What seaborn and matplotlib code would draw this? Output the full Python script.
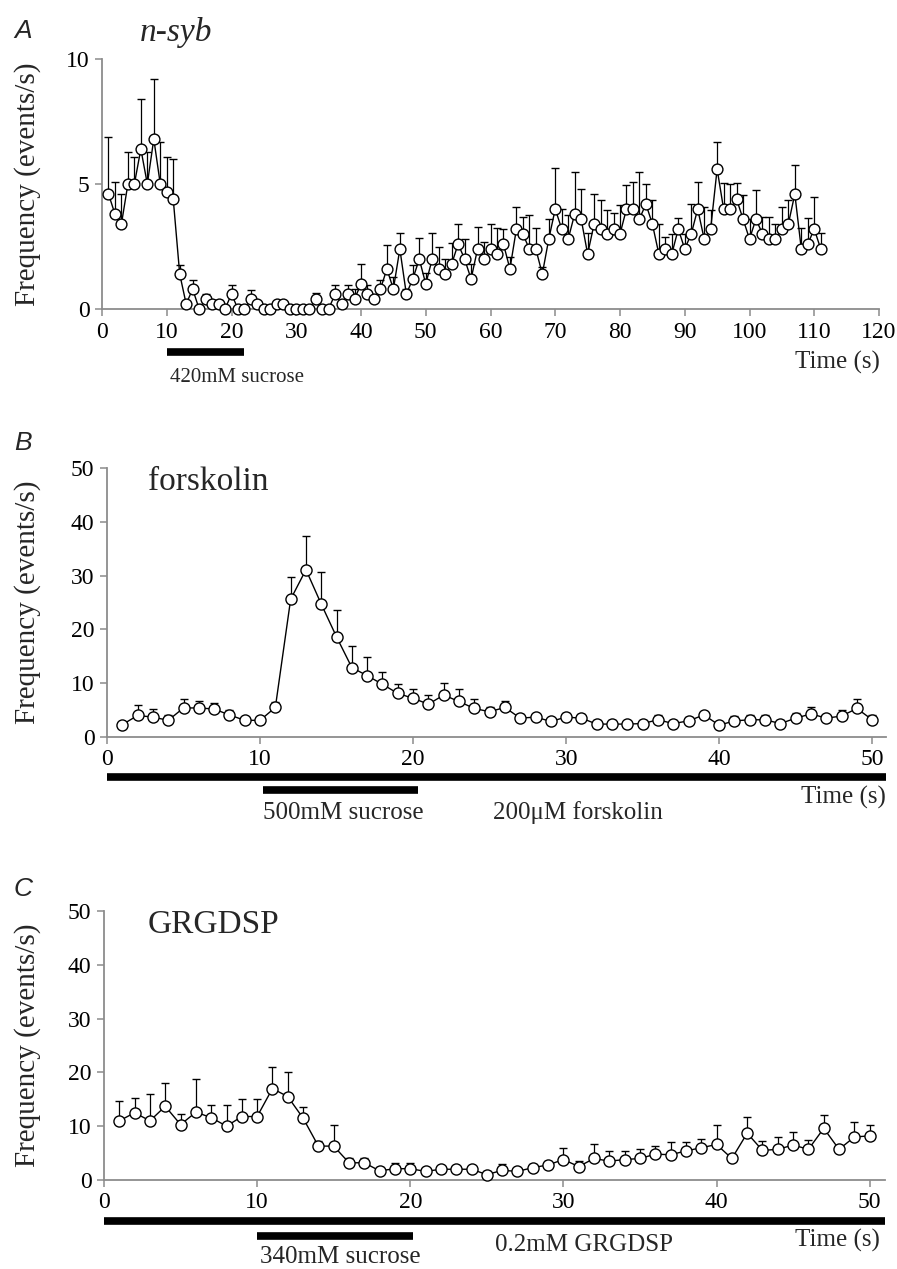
import numpy as np
import pandas as pd
import matplotlib
matplotlib.use("Agg")
import matplotlib.pyplot as plt
import matplotlib.transforms as mtransforms
import seaborn as sns

# ---------------- data ----------------
a_time = list(range(1, 112))
a_freq = [4.6, 3.8, 3.4, 5.0, 5.0, 6.4, 5.0, 6.8, 5.0, 4.7,
          4.4, 1.4, 0.2, 0.8, 0.0, 0.4, 0.2, 0.2, 0.0, 0.6,
          0.0, 0.0, 0.4, 0.2, 0.0, 0.0, 0.2, 0.2, 0.0, 0.0,
          0.0, 0.0, 0.4, 0.0, 0.0, 0.6, 0.2, 0.6, 0.4, 1.0,
          0.6, 0.4, 0.8, 1.6, 0.8, 2.4, 0.6, 1.2, 2.0, 1.0,
          2.0, 1.6, 1.4, 1.8, 2.6, 2.0, 1.2, 2.4, 2.0, 2.4,
          2.2, 2.6, 1.6, 3.2, 3.0, 2.4, 2.4, 1.4, 2.8, 4.0,
          3.2, 2.8, 3.8, 3.6, 2.2, 3.4, 3.2, 3.0, 3.2, 3.0,
          4.0, 4.0, 3.6, 4.2, 3.4, 2.2, 2.4, 2.2, 3.2, 2.4,
          3.0, 4.0, 2.8, 3.2, 5.6, 4.0, 4.0, 4.4, 3.6, 2.8,
          3.6, 3.0, 2.8, 2.8, 3.2, 3.4, 4.6, 2.4, 2.6, 3.2,
          2.4]
a_err = [2.3, 1.3, 1.2, 1.3, 1.1, 2.0, 1.3, 2.4, 1.7, 1.4,
         1.6, 0.35, 0.0, 0.35, 0.0, 0.2, 0.15, 0.15, 0.0, 0.35,
         0.0, 0.0, 0.35, 0.1, 0.0, 0.0, 0.1, 0.1, 0.0, 0.0,
         0.0, 0.0, 0.25, 0.0, 0.0, 0.35, 0.0, 0.35, 0.4, 0.8,
         0.35, 0.1, 0.35, 0.95, 0.5, 0.65, 0.2, 0.55, 0.85, 0.45,
         1.05, 0.9, 0.6, 0.85, 0.8, 0.8, 0.6, 0.9, 0.7, 1.0,
         1.05, 0.6, 0.5, 0.9, 0.7, 1.35, 0.85, 0.3, 0.8, 1.65,
         0.8, 0.95, 1.7, 1.2, 0.85, 1.2, 1.15, 0.95, 0.65, 1.15,
         0.95, 1.1, 1.9, 0.8, 0.95, 1.2, 0.5, 0.8, 0.45, 0.6,
         1.2, 1.1, 1.3, 0.75, 1.1, 1.05, 1.0, 0.65, 0.95, 0.8,
         1.15, 0.7, 0.9, 0.6, 0.9, 0.95, 1.15, 0.85, 1.05, 1.3,
         0.65]

b_time = list(range(1, 51))
b_freq = [2.3, 4.0, 3.7, 3.1, 5.4, 5.4, 5.2, 4.1, 3.1, 3.1,
          5.5, 25.6, 31.1, 24.7, 18.6, 12.9, 11.4, 9.8, 8.1, 7.2,
          6.1, 7.8, 6.6, 5.3, 4.7, 5.5, 3.5, 3.7, 2.9, 3.7,
          3.5, 2.4, 2.4, 2.4, 2.5, 3.2, 2.5, 3.0, 4.1, 2.2,
          3.0, 3.2, 3.2, 2.5, 3.5, 4.3, 3.5, 3.9, 5.3, 3.2]
b_err = [0.3, 1.9, 1.5, 0.9, 1.6, 1.3, 1.1, 0.9, 0.3, 0.3,
         1.0, 4.2, 6.3, 5.9, 5.0, 4.1, 3.4, 2.3, 1.8, 1.7,
         1.7, 2.3, 2.3, 1.7, 0.9, 1.1, 0.7, 0.6, 0.7, 0.8,
         0.7, 0.7, 0.8, 0.3, 0.6, 0.9, 0.6, 0.7, 0.6, 0.3,
         0.9, 0.9, 0.9, 0.6, 1.0, 1.2, 0.4, 1.1, 1.7, 0.9]

c_time = list(range(1, 51))
c_freq = [11.0, 12.5, 11.0, 13.7, 10.3, 12.6, 11.6, 10.0, 11.8, 11.8,
          17.0, 15.5, 11.5, 6.3, 6.3, 3.2, 3.2, 1.7, 2.1, 2.1,
          1.6, 2.0, 2.0, 2.0, 1.0, 1.8, 1.6, 2.3, 2.8, 3.8,
          2.5, 4.0, 3.5, 3.8, 4.0, 4.8, 4.7, 5.4, 6.0, 6.6,
          4.0, 8.7, 5.5, 5.7, 6.5, 5.7, 9.6, 5.7, 8.0, 8.2]
c_err = [3.7, 2.8, 5.0, 4.3, 2.0, 6.1, 2.4, 3.9, 3.2, 3.2,
         4.0, 4.5, 2.1, 0.9, 3.9, 0.8, 0.8, 0.8, 1.1, 1.1,
         0.4, 0.4, 0.6, 0.6, 0.6, 1.2, 0.6, 0.7, 0.7, 2.2,
         1.0, 2.7, 1.8, 1.5, 1.7, 1.5, 2.3, 1.6, 1.6, 3.6,
         0.8, 3.1, 1.8, 2.3, 2.5, 1.7, 2.5, 0.8, 2.8, 2.0]

a_sucrose = (10.0, 22.0)
b_sucrose = (10.2, 20.3)
c_sucrose = (10.0, 20.2)
b_drug = (0.0, 50.9)
c_drug = (0.0, 51.0)

# ---------------- style ----------------
sns.set_style("ticks")
plt.rcParams['font.family'] = ['Liberation Serif', 'DejaVu Serif']

W, H = 897, 1269
fig = plt.figure(figsize=(W / 100, H / 100), dpi=100)
fig.patch.set_facecolor('white')


def fx(x):
    return x / W


def fy(y):
    return 1 - y / H


def make_ax(left, right, top, bottom):
    return fig.add_axes([fx(left), fy(bottom), fx(right - left), (bottom - top) / H])


GRAY = '#8c8c8c'


def style_ax(ax, xlim, ylim, xticks, yticks, ylab_x_px, left_px, right_px):
    ax.set_xlim(*xlim)
    ax.set_ylim(*ylim)
    ax.set_xticks(xticks)
    ax.set_yticks(yticks)
    for s in ['top', 'right']:
        ax.spines[s].set_visible(False)
    for s in ['left', 'bottom']:
        ax.spines[s].set_color(GRAY)
        ax.spines[s].set_linewidth(1.3)
    ax.tick_params(axis='both', direction='out', length=5, width=1.1,
                   color=GRAY, labelcolor='black', labelsize=17, pad=4)
    ax.set_xlabel('')
    ax.set_ylabel('Frequency (events/s)', fontsize=21)
    ax.yaxis.set_label_coords((ylab_x_px - left_px) / (right_px - left_px), 0.5)
    ax.set_facecolor('white')
    ax.grid(False)


def draw_series(ax, t, v, e, ms, cap):
    df = pd.DataFrame({'t': t, 'v': v})
    ax.errorbar(t, v, yerr=[np.zeros(len(e)), e], fmt='none', ecolor='black',
                elinewidth=0.9, capsize=cap, capthick=1.0, zorder=2, clip_on=False)
    sns.lineplot(data=df, x='t', y='v', ax=ax, color='black', linewidth=1.0,
                 marker='o', markersize=ms, markerfacecolor='white',
                 markeredgecolor='black', markeredgewidth=1.0, zorder=3,
                 legend=False, estimator=None)
    for ln in ax.lines:
        ln.set_clip_on(False)


def hbar(ax, span, ypx):
    tr = mtransforms.blended_transform_factory(ax.transData, fig.transFigure)
    ax.plot(list(span), [fy(ypx), fy(ypx)], transform=tr, color='black',
            lw=5.5, solid_capstyle='butt', clip_on=False)


# ---------------- panel A ----------------
axA = make_ax(102, 879, 59, 309)
draw_series(axA, a_time, a_freq, a_err, ms=7.8, cap=2.6)
style_ax(axA, (0, 120), (0, 10), range(0, 121, 10), [0, 5, 10], 41, 102, 879)
hbar(axA, a_sucrose, 352)
fig.text(fx(170), fy(377), '420mM sucrose', fontsize=15, va='center', ha='left')
fig.text(fx(880), fy(362), 'Time (s)', fontsize=18, va='center', ha='right')
fig.text(fx(14), fy(31), 'A', fontsize=19, style='italic', family='Liberation Sans',
         va='center', ha='left')
fig.text(fx(140), fy(32), 'n-syb', fontsize=24, style='italic', va='center', ha='left')

# ---------------- panel B ----------------
axB = make_ax(107, 886, 468, 737)
draw_series(axB, b_time, b_freq, b_err, ms=8, cap=3.2)
style_ax(axB, (0, 50.9), (0, 50), range(0, 51, 10), range(0, 51, 10), 41, 107, 886)
hbar(axB, b_drug, 777)
hbar(axB, b_sucrose, 790)
fig.text(fx(263), fy(813), '500mM sucrose', fontsize=18, va='center', ha='left')
fig.text(fx(493), fy(813), '200\u03bcM forskolin', fontsize=18, va='center', ha='left')
fig.text(fx(886), fy(797), 'Time (s)', fontsize=18, va='center', ha='right')
fig.text(fx(14), fy(443), 'B', fontsize=19, style='italic', family='Liberation Sans',
         va='center', ha='left')
fig.text(fx(148), fy(482), 'forskolin', fontsize=24, va='center', ha='left')

# ---------------- panel C ----------------
axC = make_ax(104, 885, 911, 1180)
draw_series(axC, c_time, c_freq, c_err, ms=8, cap=3.2)
style_ax(axC, (0, 51.0), (0, 50), range(0, 51, 10), range(0, 51, 10), 41, 104, 885)
hbar(axC, c_drug, 1221)
hbar(axC, c_sucrose, 1236)
fig.text(fx(260), fy(1257), '340mM sucrose', fontsize=18, va='center', ha='left')
fig.text(fx(495), fy(1245), '0.2mM GRGDSP', fontsize=18, va='center', ha='left')
fig.text(fx(880), fy(1240), 'Time (s)', fontsize=18, va='center', ha='right')
fig.text(fx(14), fy(889), 'C', fontsize=19, style='italic', family='Liberation Sans',
         va='center', ha='left')
fig.text(fx(148), fy(925), 'GRGDSP', fontsize=24, va='center', ha='left')

fig.savefig('out.png', dpi=100, facecolor='white')
